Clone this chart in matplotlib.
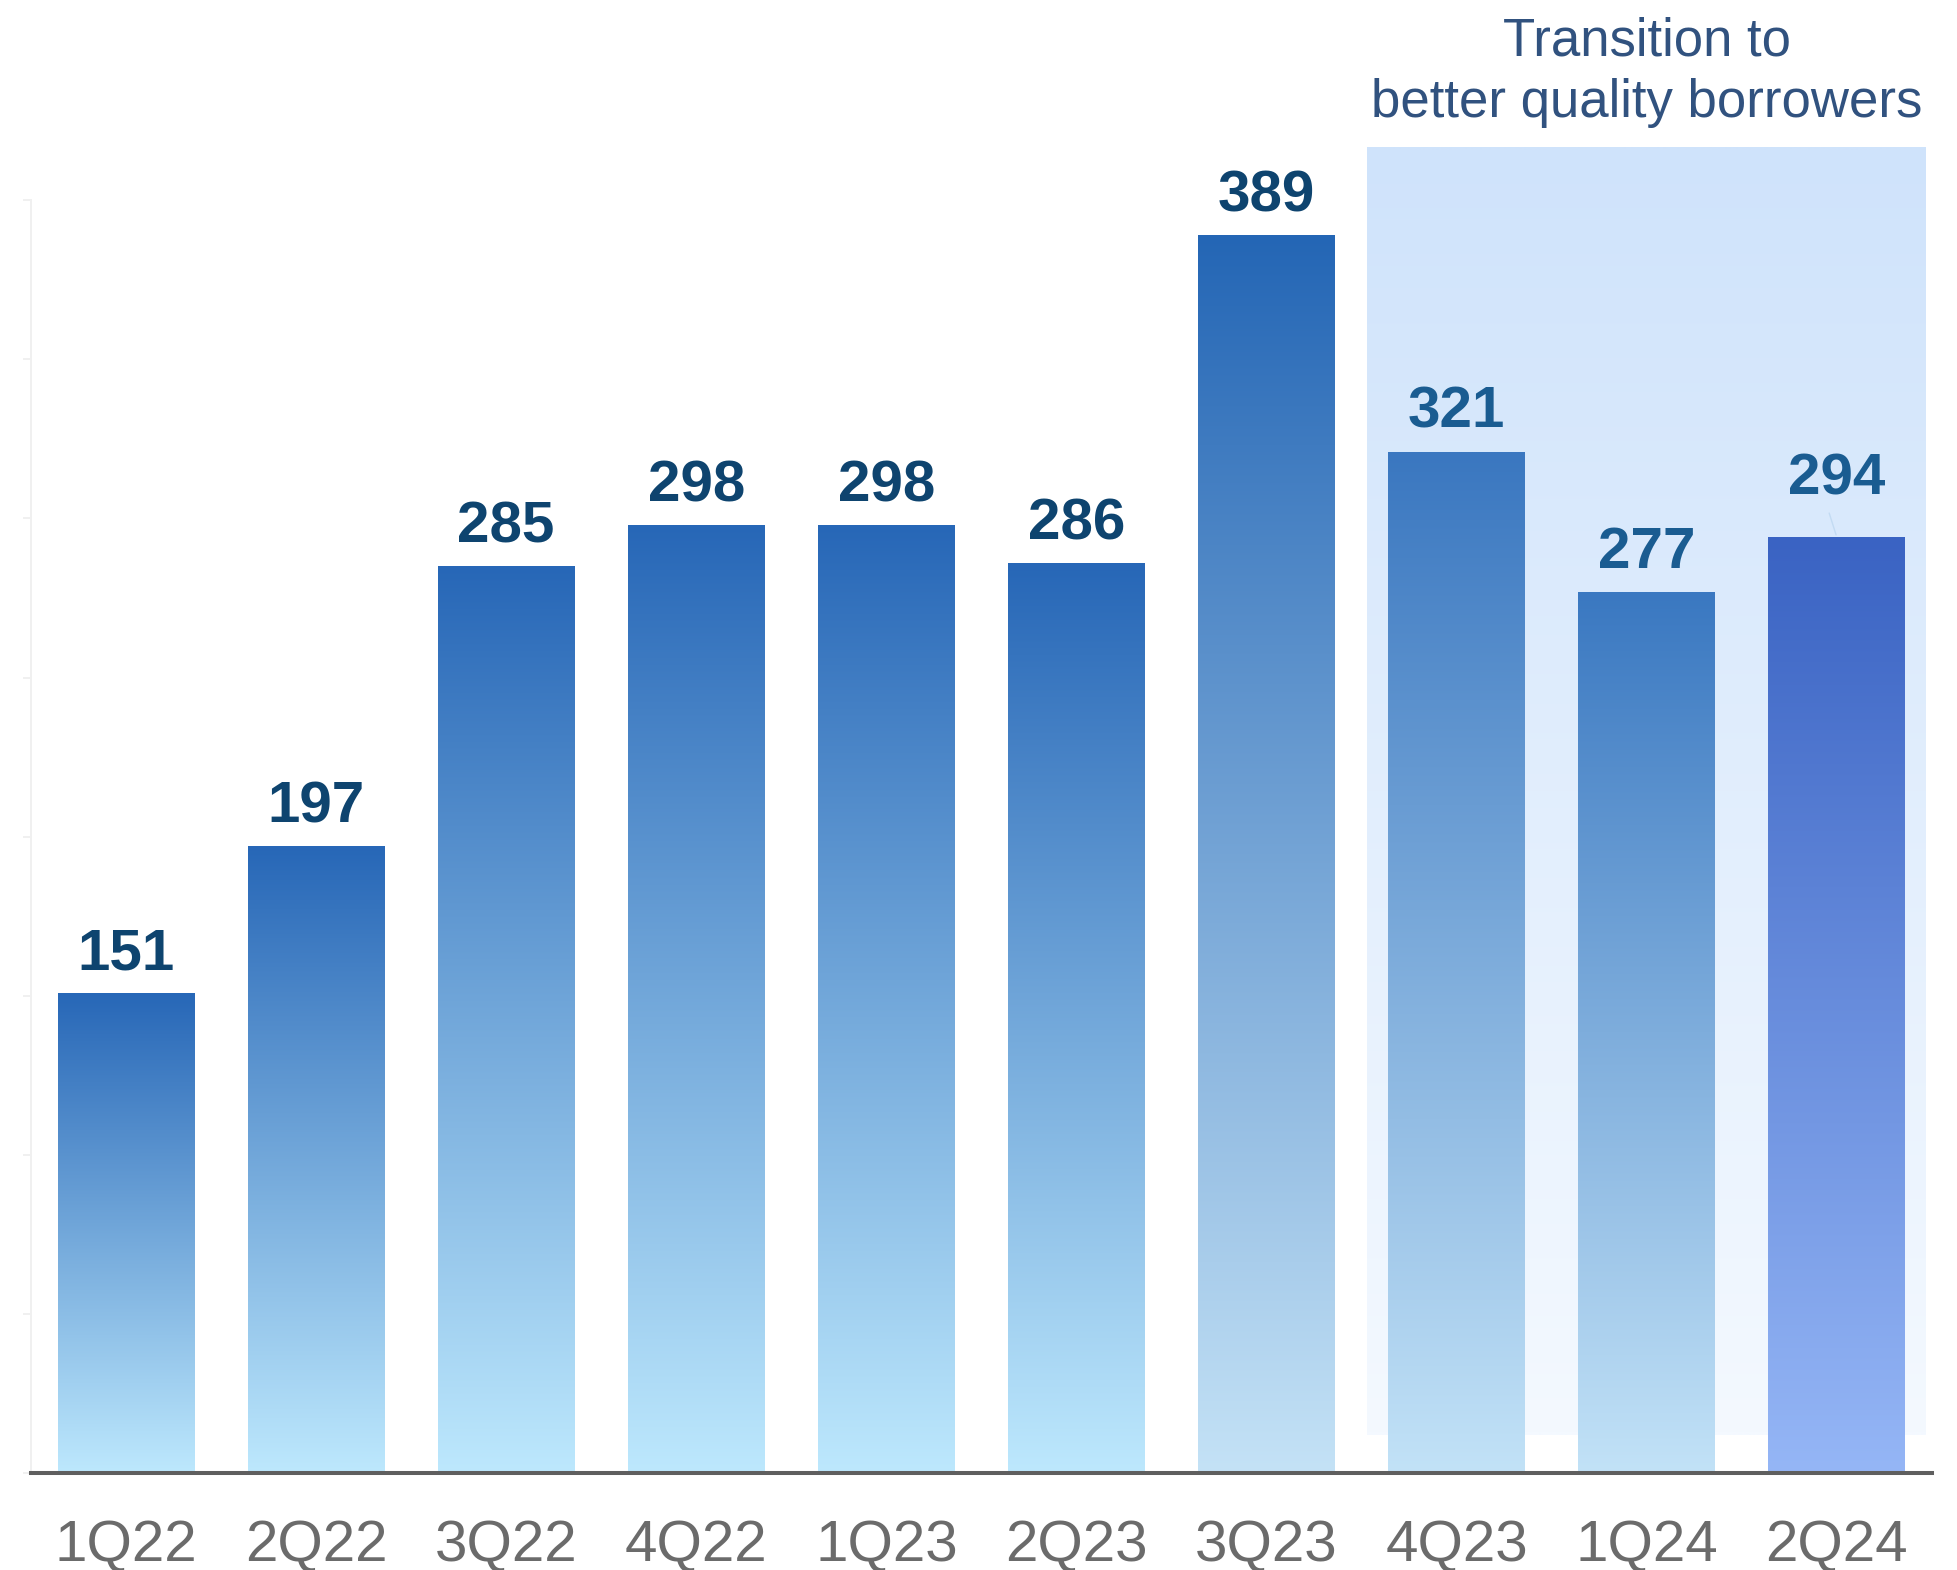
import numpy as np
import matplotlib
matplotlib.use("Agg")
import matplotlib.pyplot as plt
from matplotlib.colors import to_rgb

plt.rcParams["font.family"] = ["Liberation Sans", "DejaVu Sans"]

QUARTERS = ["1Q22", "2Q22", "3Q22", "4Q22", "1Q23", "2Q23", "3Q23", "4Q23", "1Q24", "2Q24"]
VALUES = [151, 197, 285, 298, 298, 286, 389, 321, 277, 294]

# shaded period (bar index range) and its caption
HIGHLIGHT_START = 7
HIGHLIGHT_TEXT = "Transition to\nbetter quality borrowers"

# per-bar gradient (top colour, bottom colour)
BAR_TOP = ["#2767b7"] * 6 + ["#2466b5", "#3a77c0", "#3a78c1", "#3a63c3"]
BAR_BOTTOM = ["#bde8fd"] * 6 + ["#c4e2f6", "#c2e2f7", "#c2e2f7", "#95b6f6"]

LABEL_DARK = "#0e446f"
LABEL_SOFT = "#1a5c91"
TICK_GREY = "#6b6b6b"
CAPTION_BLUE = "#31527f"


def vertical_gradient(top, bottom, n=256):
    t = np.linspace(0.0, 1.0, n)[:, None]
    top, bottom = np.array(to_rgb(top)), np.array(to_rgb(bottom))
    # row 0 is the bottom of the bar (origin="lower")
    return (bottom * (1 - t) + top * t)[:, None, :]


def main():
    fig = plt.figure(figsize=(19.57, 15.70), dpi=100)
    ax = fig.add_axes([0.0158, 0.0615, 0.9714, 0.8111])

    x = np.arange(len(QUARTERS))
    bars = ax.bar(x, VALUES, width=0.72, facecolor="none", linewidth=0, zorder=2)

    for i, patch in enumerate(bars.patches):
        x0, y0 = patch.get_x(), patch.get_y()
        x1, y1 = x0 + patch.get_width(), y0 + patch.get_height()
        im = ax.imshow(vertical_gradient(BAR_TOP[i], BAR_BOTTOM[i]), extent=(x0, x1, y0, y1),
                       origin="lower", aspect="auto", interpolation="bilinear", zorder=2)
        im.set_clip_path(patch)

    # shaded background behind the last three quarters
    box = ax.imshow(vertical_gradient("#cfe3fb", "#f4f9ff"),
                    extent=(HIGHLIGHT_START - 0.474, len(QUARTERS) - 0.534, 12, 416.5),
                    origin="lower", aspect="auto", interpolation="bilinear", zorder=0.5)
    box.set_clip_on(False)

    for i, (xi, v) in enumerate(zip(x, VALUES)):
        inside = i >= HIGHLIGHT_START
        lift = 31 if i == len(QUARTERS) - 1 else 17
        ax.annotate(f"{v}", xy=(xi, v), xytext=(0, lift), textcoords="offset points",
                    ha="center", va="baseline", fontsize=42, fontweight="bold",
                    color=LABEL_SOFT if inside else LABEL_DARK, zorder=4)

    # faint leader from the raised last label down to its bar
    ax.annotate("", xy=(x[-1], VALUES[-1]), xytext=(x[-1] - 0.045, VALUES[-1] + 8.5),
                arrowprops=dict(arrowstyle="-", color="#c3dbf3", lw=1.0), zorder=3)

    # baseline of the lower caption line
    ax.text((HIGHLIGHT_START + len(QUARTERS) - 1) / 2, 426, HIGHLIGHT_TEXT,
            ha="center", va="baseline", multialignment="center", linespacing=1.3,
            fontsize=38, color=CAPTION_BLUE, clip_on=False)

    ax.set_xlim(-0.5, len(QUARTERS) - 0.5)
    ax.set_ylim(0, 400)
    ax.set_xticks(x)
    ax.set_xticklabels(QUARTERS, fontsize=42, color=TICK_GREY)
    ax.tick_params(axis="x", length=0, pad=33)
    ax.set_yticks(np.arange(0, 401, 50))
    ax.tick_params(axis="y", labelleft=False, length=6, width=1.4, color="#f0f0f0")

    for side in ("top", "right"):
        ax.spines[side].set_visible(False)
    ax.spines["left"].set_color("#f0f0f0")
    ax.spines["left"].set_linewidth(1.4)
    ax.spines["bottom"].set_color("#5f5f5f")
    ax.spines["bottom"].set_linewidth(2.9)
    ax.spines["bottom"].set_zorder(5)
    ax.set_facecolor("none")

    fig.savefig("out.png", dpi=100)
    plt.close(fig)


if __name__ == "__main__":
    main()
